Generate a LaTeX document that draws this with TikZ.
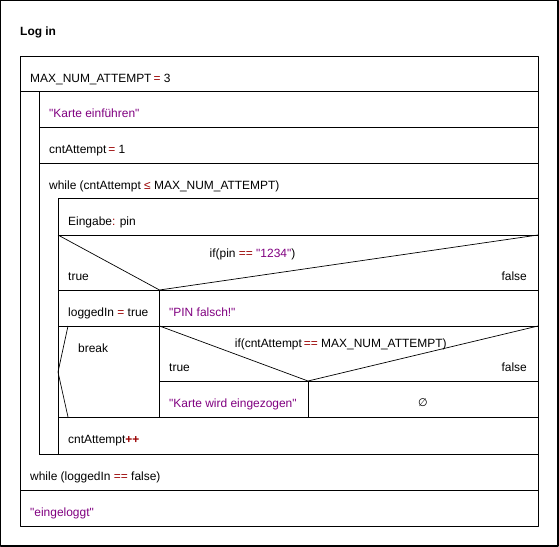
\documentclass[tikz,border=0pt]{standalone}
\usepackage{fontspec}
\setmainfont{Liberation Sans}[Ligatures=TeXOff]
\newfontfamily\symfont{DejaVu Sans}
\definecolor{opred}{RGB}{153,0,0}
\definecolor{strpurple}{RGB}{128,0,128}
\newcommand\opsym[1]{\textcolor{opred}{#1}}
\newcommand\strlit[1]{\textcolor{strpurple}{"#1"}}
\tikzset{txt/.style={inner sep=0pt,anchor=base west,font=\fontsize{12}{14}\selectfont},
	txtr/.style={txt,anchor=base east},
	txtc/.style={txt,anchor=base}}
\begin{document}
\begin{tikzpicture}[x=1bp,y=-1bp,line join=round]
		\useasboundingbox (0,0) rectangle (559,547) ;
		\coordinate (NW) at (20,57) ; \coordinate (SE) at (538,526) ;
		\coordinate (A) at (58,235) ; \coordinate (B) at (159.5,290) ; \coordinate (C) at (538,235) ;
		\coordinate (D) at (159.5,326) ; \coordinate (E) at (308,381) ; \coordinate (F) at (538,326) ;
		\coordinate (K1) at (68,326) ; \coordinate (K2) at (58,372) ; \coordinate (K3) at (68,417) ;
		\draw[line width=1.2bp] (0.6,0.6) rectangle (558,546) ;
		\draw[line width=1bp] (NW) rectangle (SE) ;
		\foreach \y/\xa in {92/20,128/39,164/39,199/58,235/58,290/58,326/58,381/159.5,417/58,454/39,490/20} \draw[line width=1bp] (\xa,\y) -- (538,\y) ;
		\draw[line width=1bp] (39,92) -- (39,454) (58,199) -- (58,454) ;
		\draw[line width=1bp] (B) -- (159.5,417) (E) -- (308,417) ;
		\draw[line width=0.7bp] (A) -- (B) -- (C) (D) -- (E) -- (F) (K1) -- (K2) -- (K3) ;
		% texts
		\node[txt,font=\fontsize{12}{14}\selectfont\bfseries] (title) at (20,36) {Log in} ;
		\node[txt] (max) at (30,83) {MAX\_NUM\_ATTEMPT\,\opsym{=} 3} ;
		\node[txt] (karte) at (49,118) {\strlit{Karte einführen}} ;
		\node[txt] (cnt) at (49,154) {cntAttempt\,\opsym{=} 1} ;
		\node[txt] (while1) at (49,190) {while (cntAttempt \opsym{≤} MAX\_NUM\_ATTEMPT)} ;
		\node[txt] (pin) at (68,225) {Eingabe\opsym{:} pin} ;
		\node[txtc] (if1) at (252.5,257) {if(pin \opsym{==} \strlit{1234})} ;
		\node[txt] (t1) at (68,280) {true} ; \node[txtr] (f1) at (527,280) {false} ;
		\node[txt] (logged) at (68,316) {loggedIn \opsym{=} true} ;
		\node[txt] (falsch) at (169,316) {\strlit{PIN falsch!}} ;
		\node[txt] (brk) at (78,352) {break} ;
		\node[txtc] (if2) at (340.7,347.5) {if(cntAttempt\,\opsym{==} MAX\_NUM\_ATTEMPT)} ;
		\node[txt] (t2) at (169,371) {true} ; \node[txtr] (f2) at (527,371) {false} ;
		\node[txt] (einzug) at (169,407) {\strlit{Karte wird eingezogen}} ;
		\node[txtc,font=\fontsize{11}{13}\symfont] (empty) at (423,406) {∅} ;
		\node[txt] (inc) at (68,443) {cntAttempt\opsym{\textbf{++}}} ;
		\node[txt] (while2) at (30,480) {while (loggedIn \opsym{==} false)} ;
		\node[txt] (done) at (30,516) {\strlit{eingeloggt}} ;
	\end{tikzpicture}
\end{document}
